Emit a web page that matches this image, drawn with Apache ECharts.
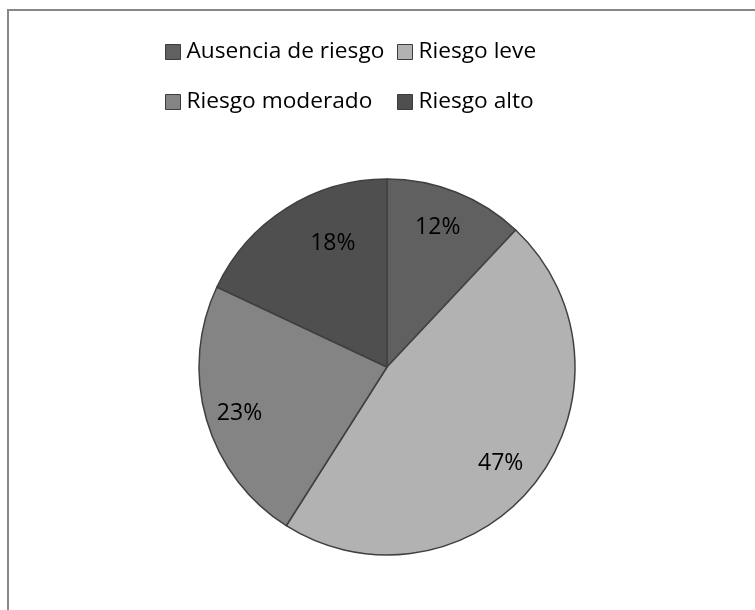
<!DOCTYPE html>
<html><head><meta charset="utf-8">
<script src="https://cdn.jsdelivr.net/npm/echarts@6/dist/echarts.min.js"></script>
<style>html,body{margin:0;padding:0;background:#fff}#c{width:755px;height:610px}</style>
</head><body><div id="c"></div>
<script>
const categories = ['Ausencia de riesgo', 'Riesgo leve', 'Riesgo moderado', 'Riesgo alto'];
const values = [12, 47, 23, 18];
const colors = ['#606060', '#b2b2b2', '#848484', '#4f4f4f'];

const FONT = 'Open Sans';
const chart = echarts.init(document.getElementById('c'), null, {renderer: 'canvas'});
const data = categories.map((n, i) => ({name: n, value: values[i], itemStyle: {color: colors[i]}}));
const R = 188, CX = 387, CY = 367;
const labelShift = [[-5, 1], [-6, 4], [-2, 4], [27, 4]];
const legendCommon = {
  orient: 'vertical', itemWidth: 15, itemHeight: 15, itemGap: 24, top: 34,
  icon: 'rect', selectedMode: false,
  itemStyle: {borderColor: '#3c3c3c', borderWidth: 1},
  textStyle: {fontFamily: FONT, fontSize: 22.7, lineHeight: 26, color: '#000', padding: [0, 0, 0, 1]}
};
chart.setOption({
  animation: false,
  graphic: [{type: 'rect', shape: {x: 8, y: 10, width: 900, height: 900}, style: {fill: 'none', stroke: '#888', lineWidth: 2}, silent: true}],
  legend: [
    Object.assign({}, legendCommon, {left: 160, data: [categories[0], categories[2]]}),
    Object.assign({}, legendCommon, {left: 392, data: [categories[1], categories[3]]})
  ],
  series: [{
    type: 'pie', center: [CX, CY], radius: [0, R], startAngle: 90, clockwise: true,
    data: data, label: {show: false}, labelLine: {show: false},
    itemStyle: {borderColor: '#404040', borderWidth: 1.5}, emphasis: {disabled: true}, silent: true
  }, {
    type: 'pie', center: [CX, CY], radius: [R * 0.58, R], startAngle: 90, clockwise: true,
    data: categories.map((n, i) => ({name: n, value: values[i], label: {offset: labelShift[i]}})),
    itemStyle: {color: 'rgba(0,0,0,0)'},
    label: {show: true, position: 'inside', formatter: p => p.value + '%', fontFamily: FONT, fontSize: 23, color: '#000'},
    labelLine: {show: false}, emphasis: {disabled: true}, silent: true
  }]
});
</script></body></html>
